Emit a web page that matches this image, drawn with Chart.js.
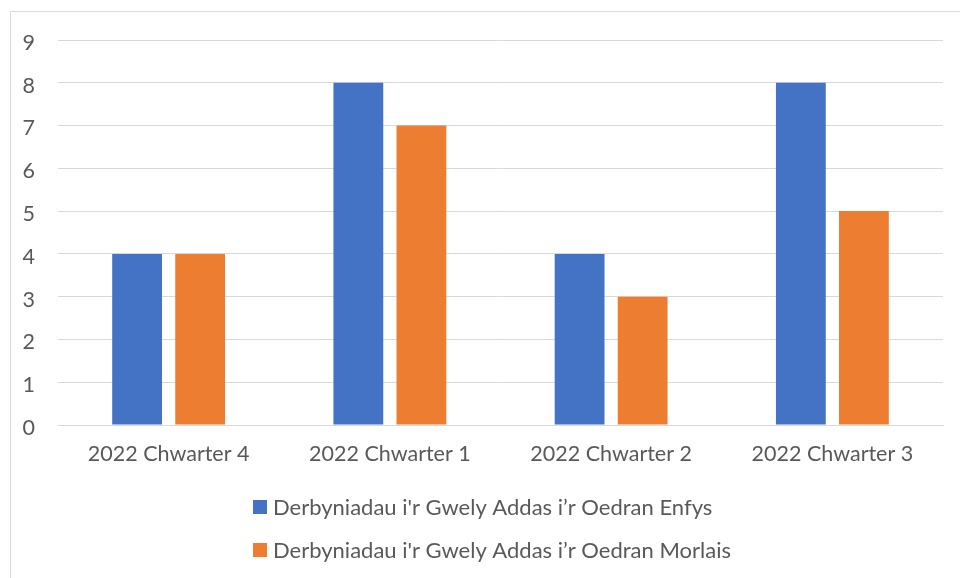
<!DOCTYPE html>
<html>
<head>
<meta charset="utf-8">
<script src="https://cdn.jsdelivr.net/npm/chart.js@4"></script>
<style>
  html, body { margin: 0; padding: 0; background: #fff; }
  #wrap { position: relative; width: 960px; height: 578px; overflow: hidden; }
  #frame { position: absolute; left: 10px; top: 11px; width: 1000px; height: 600px; border: 1px solid #d9d9d9; box-sizing: border-box; }
  canvas { position: absolute; left: 0; top: 0; }
</style>
</head>
<body>
<div id="wrap">
  <div id="frame"></div>
  <canvas id="barChart" width="960" height="578"></canvas>
</div>
<script>
const categories = ['2022 Chwarter 4', '2022 Chwarter 1', '2022 Chwarter 2', '2022 Chwarter 3'];
const seriesNames = [
    "Derbyniadau i'r Gwely Addas i\u2019r Oedran Enfys",
    "Derbyniadau i'r Gwely Addas i\u2019r Oedran Morlais"
];
const enfysValues = [4, 8, 4, 8];
const morlaisValues = [4, 7, 3, 5];
const yTicks = [0, 1, 2, 3, 4, 5, 6, 7, 8, 9];

const colors = ['#4472c4', '#ed7d31'];
const textColor = '#595959';
const fontFamily = 'Lato, "Open Sans", sans-serif';
const fontSize = 21.5;

// legend stacked vertically under the axis, drawn by hand
const stackedLegend = {
    id: 'stackedLegend',
    afterDraw(chart) {
        const ctx = chart.ctx;
        ctx.save();
        ctx.font = '22px ' + fontFamily;
        ctx.textBaseline = 'middle';
        chart.data.datasets.forEach(function(ds, i) {
            const y = 507 + i * 43;
            ctx.fillStyle = ds.backgroundColor;
            ctx.fillRect(253, y - 7, 14, 14);
            ctx.fillStyle = textColor;
            ctx.fillText(ds.label, 273, y + 1);
        });
        ctx.restore();
    }
};

const ctx = document.getElementById('barChart').getContext('2d');
new Chart(ctx, {
    type: 'bar',
    data: {
        labels: categories,
        datasets: [
            { label: seriesNames[0], data: enfysValues, backgroundColor: colors[0] },
            { label: seriesNames[1], data: morlaisValues, backgroundColor: colors[1] }
        ]
    },
    options: {
        responsive: false,
        animation: false,
        layout: { padding: { left: 10, right: 17, top: 40, bottom: 0 } },
        datasets: { bar: { categoryPercentage: 0.57, barPercentage: 0.79 } },
        plugins: {
            legend: { display: false },
            tooltip: { enabled: false }
        },
        scales: {
            x: {
                grid: { display: false, drawTicks: false },
                border: { display: true, color: '#d9d9d9', width: 1 },
                ticks: { color: textColor, font: { family: fontFamily, size: fontSize }, padding: 16 },
                afterFit(scale) { scale.height = 153; }
            },
            y: {
                min: 0,
                max: 9,
                afterBuildTicks(scale) { scale.ticks = yTicks.map(v => ({ value: v })); },
                grid: { color: '#d9d9d9', lineWidth: 1, drawTicks: false },
                border: { display: false },
                ticks: { color: textColor, font: { family: fontFamily, size: fontSize }, padding: 23, labelOffset: 3 },
                afterFit(scale) { scale.width = 48; }
            }
        }
    },
    plugins: [stackedLegend]
});
</script>
</body>
</html>
